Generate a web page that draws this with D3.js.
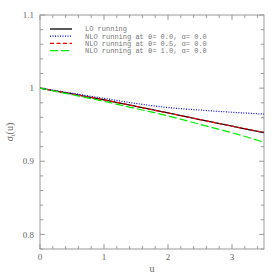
<!DOCTYPE html>
<html>
<head>
<meta charset="utf-8">
<script src="https://cdn.jsdelivr.net/npm/d3@7"></script>
<style>
  body { margin: 0; background: #fff; }
  svg { display: block; }
</style>
</head>
<body>
<div id="chart"></div>
<script>
// curve samples
const uValues = [0, 0.5, 1, 1.5, 2, 2.5, 3, 3.5];
const loRunning = [1, 0.992, 0.984, 0.975, 0.966, 0.957, 0.948, 0.939];
const nloTheta00 = [1, 0.993, 0.986, 0.979, 0.9735, 0.970, 0.967, 0.9645];
const nloTheta05 = [1, 0.992, 0.984, 0.975, 0.966, 0.957, 0.948, 0.9395];
const nloTheta10 = [1, 0.991, 0.982, 0.972, 0.962, 0.9505, 0.939, 0.926];

const seriesNames = [
  "LO running",
  "NLO running at \u03b8= 0.0, \u03b1= 0.0",
  "NLO running at \u03b8= 0.5, \u03b1= 0.0",
  "NLO running at \u03b8= 1.0, \u03b1= 0.0"
];
const xTicks = [0, 1, 2, 3];
const yTicks = [0.8, 0.9, 1, 1.1];

const width = 279, height = 279;
const margin = { top: 15, right: 15, bottom: 30, left: 40 };
const innerW = width - margin.left - margin.right;
const innerH = height - margin.top - margin.bottom;

const svg = d3.select("#chart").append("svg")
  .attr("width", width)
  .attr("height", height);

const g = svg.append("g")
  .attr("transform", `translate(${margin.left},${margin.top})`);

const x = d3.scaleLinear().domain([0, 3.5]).range([0, innerW]);
const y = d3.scaleLinear().domain([0.78, 1.1]).range([innerH, 0]);

const axisColor = "#999";
const labelColor = "#666";

// frame
g.append("rect")
  .attr("width", innerW)
  .attr("height", innerH)
  .attr("fill", "none")
  .attr("stroke", axisColor)
  .attr("stroke-width", 1);

// ticks pointing inward on all four sides
const xMinor = d3.range(0, 3.5001, 0.2);
const yMinor = d3.range(0.78, 1.1001, 0.02);
const isMajor = (v, step) => Math.abs(v / step - Math.round(v / step)) < 1e-6;

[[innerH, -1], [0, 1]].forEach(([y0, dir]) => {
  g.append("g").selectAll("line")
    .data(xMinor)
    .join("line")
    .attr("x1", (d) => x(d)).attr("x2", (d) => x(d))
    .attr("y1", y0)
    .attr("y2", (d) => y0 + dir * (isMajor(d, 1) ? 5 : 3))
    .attr("stroke", axisColor);
});

[[0, 1], [innerW, -1]].forEach(([x0, dir]) => {
  g.append("g").selectAll("line")
    .data(yMinor)
    .join("line")
    .attr("y1", (d) => y(d)).attr("y2", (d) => y(d))
    .attr("x1", x0)
    .attr("x2", (d) => x0 + dir * (isMajor(d, 0.1) ? 5 : 3))
    .attr("stroke", axisColor);
});

// tick labels
g.append("g").selectAll("text")
  .data(xTicks)
  .join("text")
  .attr("x", (d) => x(d))
  .attr("y", innerH + 11)
  .attr("text-anchor", "middle")
  .attr("font-family", "Liberation Serif")
  .attr("font-size", 9)
  .attr("fill", labelColor)
  .text((d) => d);

g.append("g").selectAll("text")
  .data(yTicks)
  .join("text")
  .attr("x", -6)
  .attr("y", (d) => y(d))
  .attr("dy", "0.35em")
  .attr("text-anchor", "end")
  .attr("font-family", "Liberation Serif")
  .attr("font-size", 9)
  .attr("fill", labelColor)
  .text((d) => d);

// axis titles
svg.append("text")
  .attr("x", margin.left + innerW / 2)
  .attr("y", 272)
  .attr("text-anchor", "middle")
  .attr("font-family", "Liberation Serif")
  .attr("font-size", 10)
  .attr("fill", labelColor)
  .text("u");

const yTitle = svg.append("text")
  .attr("transform", `translate(13,${margin.top + innerH / 2}) rotate(-90)`)
  .attr("text-anchor", "middle")
  .attr("font-family", "Liberation Serif")
  .attr("font-size", 10)
  .attr("fill", labelColor);
yTitle.append("tspan").attr("font-style", "italic").text("\u03c3");
yTitle.append("tspan").attr("font-size", 7).attr("dy", 2).text("t");
yTitle.append("tspan").attr("dy", -2).text("(u)");

// curves
const series = [
  { name: seriesNames[0], values: loRunning, color: "#000", dash: null, w: 1.3 },
  { name: seriesNames[1], values: nloTheta00, color: "#0000ff", dash: "1,1.5", w: 1.2 },
  { name: seriesNames[2], values: nloTheta05, color: "#ff0000", dash: "4,2.5", w: 1.2 },
  { name: seriesNames[3], values: nloTheta10, color: "#00ee00", dash: "8,3", w: 1.2 }
];

const line = d3.line()
  .x((d) => x(d[0]))
  .y((d) => y(d[1]))
  .curve(d3.curveMonotoneX);

g.append("defs").append("clipPath").attr("id", "clip")
  .append("rect").attr("width", innerW).attr("height", innerH);

g.append("g").attr("clip-path", "url(#clip)")
  .selectAll("path")
  .data(series)
  .join("path")
  .attr("d", (s) => line(uValues.map((u, i) => [u, s.values[i]])))
  .attr("fill", "none")
  .attr("stroke", (s) => s.color)
  .attr("stroke-width", (s) => s.w)
  .attr("stroke-dasharray", (s) => s.dash);

// legend
const legend = g.append("g").attr("transform", "translate(10,14)");
const rows = legend.selectAll("g")
  .data(series)
  .join("g")
  .attr("transform", (d, i) => `translate(0,${i * 7.2})`);

rows.append("line")
  .attr("x1", 0).attr("x2", 22)
  .attr("stroke", (s) => s.color)
  .attr("stroke-width", (s) => s.w)
  .attr("stroke-dasharray", (s) => s.dash);

rows.append("text")
  .attr("x", 35)
  .attr("dy", "0.35em")
  .attr("font-family", "Liberation Mono")
  .attr("font-size", 7)
  .attr("fill", "#777")
  .text((s) => s.name);
</script>
</body>
</html>
